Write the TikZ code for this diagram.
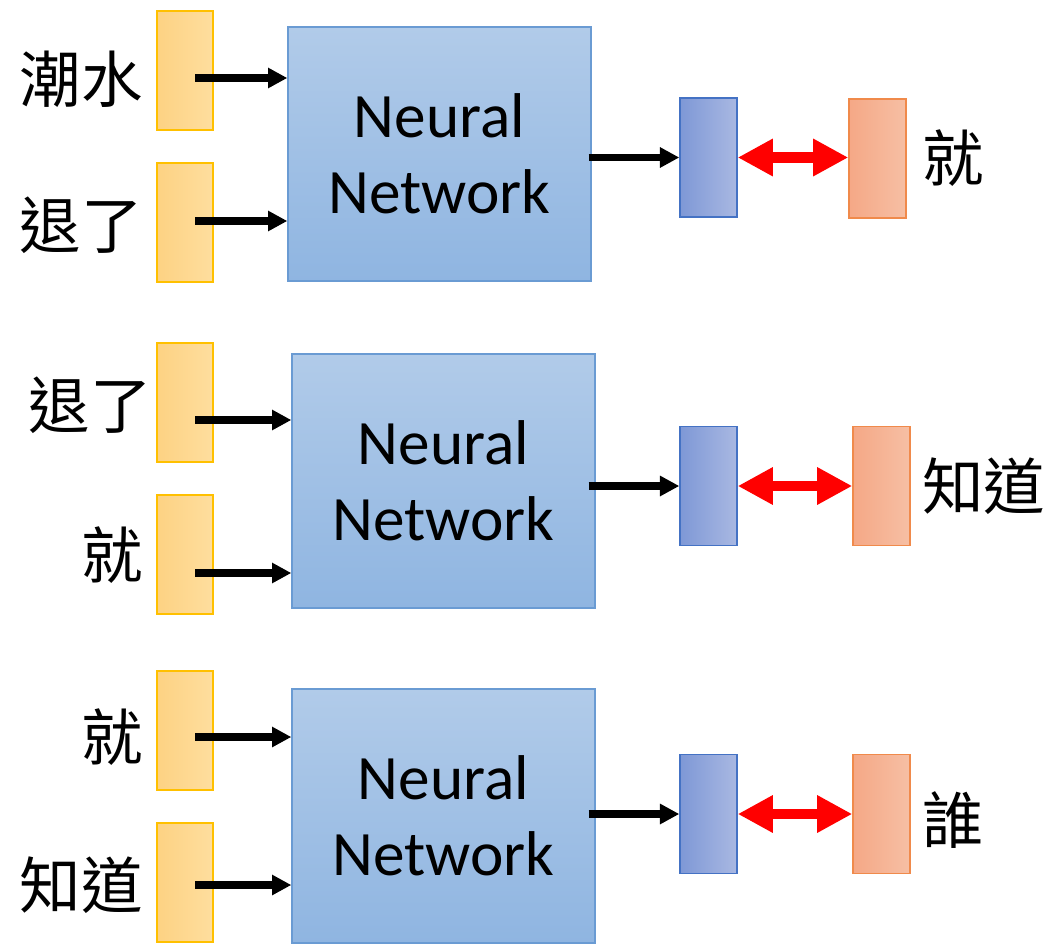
\documentclass[tikz,border=0pt]{standalone}
\usepackage{fontspec}
\setmainfont{Carlito}
\newfontfamily\cjk{Noto Sans CJK TC}
\usepackage{tikz}
\usepackage{xcolor}
\usetikzlibrary{arrows.meta, positioning, calc}

\definecolor{inL}{HTML}{FDD283}
\definecolor{inR}{HTML}{FEDE9E}
\definecolor{inEdge}{HTML}{FFC000}
\definecolor{nnTop}{HTML}{B1CBE9}
\definecolor{nnBot}{HTML}{8FB5E1}
\definecolor{nnEdge}{HTML}{6A9BD3}
\definecolor{outL}{HTML}{7E98D6}
\definecolor{outR}{HTML}{A9B8E2}
\definecolor{outEdge}{HTML}{4472C4}
\definecolor{tgtL}{HTML}{F5A886}
\definecolor{tgtR}{HTML}{F6BFA4}
\definecolor{tgtEdge}{HTML}{F08A4B}

\tikzset{
  inbox/.style={draw=inEdge, line width=0.8pt, left color=inL, right color=inR,
    minimum width=1.12cm, minimum height=2.38cm, inner sep=0pt},
  nnbox/.style={draw=nnEdge, line width=0.8pt, top color=nnTop, bottom color=nnBot,
    minimum width=6.06cm, minimum height=5.08cm, align=center,
    font=\fontsize{36}{43}\selectfont},
  outbox/.style={draw=outEdge, line width=0.8pt, left color=outL, right color=outR,
    minimum width=1.14cm, minimum height=2.38cm, inner sep=0pt},
  tgtbox/.style={draw=tgtEdge, line width=0.8pt, left color=tgtL, right color=tgtR,
    minimum width=1.14cm, minimum height=2.38cm, inner sep=0pt},
  word/.style={font=\cjk\fontsize{35}{40}\selectfont, inner sep=0pt},
  arr/.style={line width=4pt, -{Triangle[length=11pt,width=11pt]}},
  cmp/.style={red, line width=6pt,
    {Triangle[length=20pt,width=20pt]}-{Triangle[length=20pt,width=20pt]}},
}

\begin{document}
\begin{tikzpicture}[x=0.02cm,y=-0.02cm]
\useasboundingbox (0,0) rectangle (1051,943);

% first step
\node[inbox] (in1a) at (185,70.5) {};
\node[inbox] (in1b) at (185,222.5) {};
\node[word, anchor=east] (w1a) at (143,79) {潮水};
\node[word, anchor=east] (w1b) at (143,225) {退了};
\node[nnbox] (nn1) at (439.5,154) {Neural\\Network};
\node[outbox] (out1) at (708.5,157.5) {};
\node[tgtbox] (tgt1) at (877.5,158.5) {};
\node[word, anchor=west] (t1) at (922,158) {就};
\coordinate (s1a) at (195,78);
\coordinate (s1b) at (195,221);
\draw[arr] (s1a) -- (s1a -| nn1.west);
\draw[arr] (s1b) -- (s1b -| nn1.west);
\draw[arr] ([xshift=-0.06cm]out1.west -| nn1.east) -- (out1.west);
\draw[cmp] (out1.east) -- (out1.east -| tgt1.west);

% second step
\node[inbox] (in2a) at (185,402.5) {};
\node[inbox] (in2b) at (185,554.5) {};
\node[word, anchor=east] (w2a) at (152,405) {退了};
\node[word, anchor=east] (w2b) at (143,555) {就};
\node[nnbox] (nn2) at (443.5,481) {Neural\\Network};
\node[outbox] (out2) at (708.5,486) {};
\node[tgtbox] (tgt2) at (881.5,486) {};
\node[word, anchor=west] (t2) at (922,486) {知道};
\coordinate (s2a) at (195,420);
\coordinate (s2b) at (195,573);
\draw[arr] (s2a) -- (s2a -| nn2.west);
\draw[arr] (s2b) -- (s2b -| nn2.west);
\draw[arr] ([xshift=-0.14cm]out2.west -| nn2.east) -- (out2.west);
\draw[cmp] (out2.east) -- (out2.east -| tgt2.west);

% third step
\node[inbox] (in3a) at (185,730.5) {};
\node[inbox] (in3b) at (185,882.5) {};
\node[word, anchor=east] (w3a) at (143,737) {就};
\node[word, anchor=east] (w3b) at (143,885) {知道};
\node[nnbox] (nn3) at (443.5,816) {Neural\\Network};
\node[outbox] (out3) at (708.5,814) {};
\node[tgtbox] (tgt3) at (881.5,814) {};
\node[word, anchor=west] (t3) at (922,820) {誰};
\coordinate (s3a) at (195,737);
\coordinate (s3b) at (195,885);
\draw[arr] (s3a) -- (s3a -| nn3.west);
\draw[arr] (s3b) -- (s3b -| nn3.west);
\draw[arr] ([xshift=-0.14cm]out3.west -| nn3.east) -- (out3.west);
\draw[cmp] (out3.east) -- (out3.east -| tgt3.west);
\end{tikzpicture}
\end{document}
